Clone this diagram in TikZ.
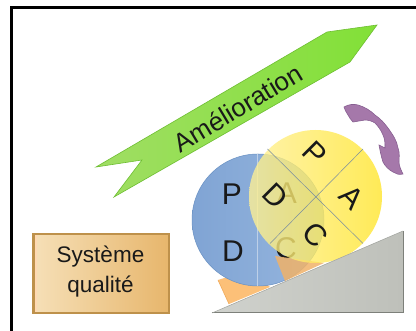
\documentclass[tikz,border=0pt]{standalone}
\usepackage{fontspec}
\setmainfont{Liberation Sans}
\begin{document}
\begin{tikzpicture}[x=1pt,y=-1pt,
  lett/.style={inner sep=0pt,font=\fontsize{30}{30}\selectfont,text=black!90},
  ylett/.style={lett,rotate=-45}]
\useasboundingbox (0,0) rectangle (416,331);
\fill[white] (0,0) rectangle (416,331);
\fill[black] (10,6) rectangle (416,9);
\fill[black] (10,6) rectangle (13,331);
% quality box
\shade[left color={rgb,255:red,246;green,224;blue,184},right color={rgb,255:red,231;green,182;blue,108}] (32,234) rectangle (169,313);
\draw[color={rgb,255:red,190;green,145;blue,75},line width=1.2pt] (32.5,234) -- (169,234) -- (169,313) -- (32.5,313) -- cycle;
\fill[color={rgb,255:red,190;green,145;blue,75}] (32,234) rectangle (35,313);
\fill[white!70!orange] (35,235) rectangle (36.5,312.5);
\node[align=center,font=\fontsize{22.5}{30}\selectfont,text=black!90] (qtext) at (100.5,272) {Système\\qualité};
% arrow
\shade[shading angle=31,left color={rgb,255:red,160;green,222;blue,100},right color={rgb,255:red,130;green,224;blue,55},draw={rgb,255:red,110;green,190;blue,50},line width=.6pt]
  (96,167) -- (327,32) -- (377,25) -- (350,62) -- (114,197) -- (142,160) -- cycle;
\node[rotate=31,font=\fontsize{26}{26}\selectfont,text=black!90] (amelio) at (238,108) {Amélioration};
% curved arrow
\fill[color={rgb,255:red,165;green,120;blue,170},draw={rgb,255:red,135;green,95;blue,145},line width=.6pt]
  (344,107) .. controls (349,104) and (354,104) .. (358,105)
  .. controls (365,107) and (371,111) .. (375,115)
  .. controls (381,119) and (385,124) .. (388,128)
  .. controls (393,135) and (397,141) .. (398,148)
  .. controls (400,153) and (399,158) .. (399,162)
  .. controls (399,166) and (401,170) .. (403,174)
  .. controls (399,175) and (396,174) .. (393,172)
  .. controls (389,170) and (385,166) .. (383,162)
  .. controls (381,156) and (380,150) .. (379,145)
  -- (385,148)
  .. controls (385,143) and (385,139) .. (383,135)
  .. controls (381,130) and (378,126) .. (375,123)
  .. controls (372,121) and (368,120) .. (365,120)
  -- (353,122)
  .. controls (351,120) and (349,117) .. (348,115)
  .. controls (346,112) and (345,110) .. (344,107) -- cycle;
% wedges and circles
\fill[color={rgb,255:red,252;green,192;blue,120}] (218,280) -- (229,304) -- (270,287) -- (250,270) -- cycle;
\draw[color={rgb,255:red,240;green,170;blue,90},line width=.6pt] (218,280) -- (229,304);
\shade[left color={rgb,255:red,128;green,164;blue,212},right color={rgb,255:red,150;green,182;blue,222}] (258,220) circle[radius=66];
\draw[color={rgb,255:red,105;green,145;blue,195},line width=.5pt] (258,220) circle[radius=66];
\draw[color={rgb,255:red,190;green,208;blue,232},line width=.6pt] (257,154) -- (257,286);
\node[lett] (bp) at (232,194) {P};
\node[lett] (bd) at (233,251) {D};
\node[lett] (ba) at (287,193) {A};
\node[lett] (bc) at (286,248) {C};
\fill[color={rgb,255:red,240;green,178;blue,105},fill opacity=.85] (275,256) -- (285,281) -- (324,263) -- cycle;
\shade[fill opacity=.78,left color={rgb,255:red,255;green,241;blue,150},right color={rgb,255:red,255;green,229;blue,40}] (315.5,196.5) circle[radius=66.5];
\draw[color={rgb,255:red,120;green,140;blue,160},line width=.5pt] (267.5,149) -- (363,243.5);
\draw[color={rgb,255:red,120;green,140;blue,160},line width=.5pt] (270,243.5) -- (363,149);
\node[ylett] (yp) at (315,153) {P};
\node[ylett] (ya) at (352,197) {A};
\node[ylett] (yd) at (275,196) {D};
\node[ylett] (yc) at (315,235) {C};
% ramp
\shade[left color={rgb,255:red,208;green,210;blue,205},right color={rgb,255:red,190;green,192;blue,186}] (212,313) -- (403,231) -- (403,313) -- cycle;
\draw[color={rgb,255:red,125;green,128;blue,122},line width=1pt] (212,313) -- (403,313) -- (403,231);
\draw[color={rgb,255:red,160;green,163;blue,158},line width=.5pt] (212,313) -- (403,231);
\end{tikzpicture}
\end{document}
